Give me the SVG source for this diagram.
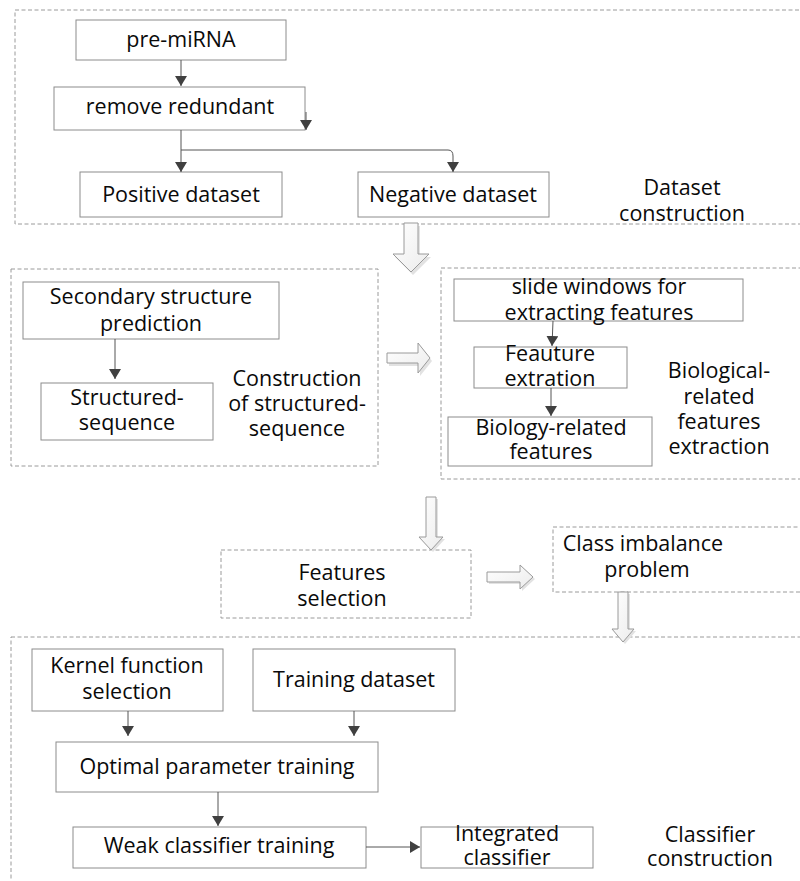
<svg xmlns="http://www.w3.org/2000/svg" width="800" height="881" viewBox="0 0 800 881">
<style>
.bg{fill:#fff}
.box{fill:#fff;stroke:#8c8c8c;stroke-width:1}
.sec{fill:none;stroke:#9a9a9a;stroke-width:1;stroke-dasharray:4 2.5}
.t{font-family:"Open Sans","Noto Sans","Liberation Sans",sans-serif;font-size:21.5px;fill:#0a0a0a;text-anchor:middle}
.ln{fill:none;stroke:#555;stroke-width:1;marker-end:url(#ah)}
.big{fill:url(#hg);stroke:#9a9a9a;stroke-width:1}
.sh{fill:#e2e2e2}
</style>
<defs>
<marker id="ah" viewBox="0 0 10 12" markerWidth="10" markerHeight="12" refX="10" refY="6" orient="auto" markerUnits="userSpaceOnUse">
<path d="M0,0 L10,6 L0,12 Z" fill="#404040"/>
</marker>
<linearGradient id="hg" x1="0" y1="0" x2="1" y2="1">
<stop offset="0" stop-color="#ffffff"/>
<stop offset="1" stop-color="#ececec"/>
</linearGradient>
</defs>
<rect class="bg" x="0" y="0" width="800" height="881"/>

<g id="section-dataset">
<rect class="sec" x="15" y="10" width="800" height="214"/>
<text class="t"><tspan x="682" y="195">Dataset</tspan><tspan x="682" y="221">construction</tspan></text>
</g>
<g id="section-structured">
<rect class="sec" x="11" y="269" width="367" height="197"/>
<text class="t"><tspan x="297" y="386">Construction</tspan><tspan x="297" y="411">of structured-</tspan><tspan x="297" y="436">sequence</tspan></text>
</g>
<g id="section-biological">
<rect class="sec" x="441" y="268" width="400" height="211"/>
<text class="t"><tspan x="719" y="378">Biological-</tspan><tspan x="719" y="404">related</tspan><tspan x="719" y="429">features</tspan><tspan x="719" y="454">extraction</tspan></text>
</g>
<g id="section-classifier">
<rect class="sec" x="11" y="637" width="800" height="260"/>
<text class="t"><tspan x="710" y="842">Classifier</tspan><tspan x="710" y="866">construction</tspan></text>
</g>

<g id="pre-miRNA">
<rect class="box" x="76" y="20" width="210" height="40"/>
<text class="t" x="181" y="47">pre-miRNA</text>
</g>
<g id="remove-redundant">
<rect class="box" x="54" y="87" width="251" height="43"/>
<text class="t" x="180" y="114">remove redundant</text>
</g>
<g id="positive-dataset">
<rect class="box" x="80" y="172" width="202" height="45"/>
<text class="t" x="181" y="202">Positive dataset</text>
</g>
<g id="negative-dataset">
<rect class="box" x="358" y="172" width="191" height="45"/>
<text class="t" x="453" y="202">Negative dataset</text>
</g>

<g id="secondary-structure">
<rect class="box" x="23" y="282" width="256" height="57"/>
<text class="t"><tspan x="151" y="304">Secondary structure</tspan><tspan x="151" y="331">prediction</tspan></text>
</g>
<g id="structured-sequence">
<rect class="box" x="41" y="383" width="172" height="57"/>
<text class="t"><tspan x="127" y="405">Structured-</tspan><tspan x="127" y="430">sequence</tspan></text>
</g>

<g id="slide-windows">
<rect class="box" x="454" y="279" width="289" height="42"/>
<text class="t"><tspan x="599" y="294">slide windows for</tspan><tspan x="599" y="320">extracting features</tspan></text>
</g>
<g id="feature-extraction">
<rect class="box" x="474" y="347" width="153" height="41"/>
<text class="t"><tspan x="550" y="361">Feauture</tspan><tspan x="550" y="386">extration</tspan></text>
</g>
<g id="biology-related">
<rect class="box" x="448" y="417" width="204" height="49"/>
<text class="t"><tspan x="551" y="435">Biology-related</tspan><tspan x="551" y="459">features</tspan></text>
</g>

<g id="features-selection">
<rect class="sec" x="221" y="550" width="250" height="68"/>
<text class="t"><tspan x="342" y="580">Features</tspan><tspan x="342" y="606">selection</tspan></text>
</g>
<g id="class-imbalance">
<rect class="sec" x="553" y="527" width="260" height="65"/>
<text class="t"><tspan x="643" y="551">Class imbalance</tspan><tspan x="647" y="577">problem</tspan></text>
</g>

<g id="kernel-function">
<rect class="box" x="32" y="649" width="191" height="62"/>
<text class="t"><tspan x="127" y="673">Kernel function</tspan><tspan x="127" y="699">selection</tspan></text>
</g>
<g id="training-dataset">
<rect class="box" x="253" y="649" width="202" height="62"/>
<text class="t" x="354" y="687">Training dataset</text>
</g>
<g id="optimal-parameter">
<rect class="box" x="56" y="742" width="322" height="50"/>
<text class="t" x="217" y="774">Optimal parameter training</text>
</g>
<g id="weak-classifier">
<rect class="box" x="73" y="827" width="293" height="41"/>
<text class="t" x="219" y="853">Weak classifier training</text>
</g>
<g id="integrated-classifier">
<rect class="box" x="421" y="827" width="172" height="41"/>
<text class="t"><tspan x="507" y="841">Integrated</tspan><tspan x="507" y="865">classifier</tspan></text>
</g>

<g id="connectors">
<path class="ln" d="M181,60 V86"/>
<path class="ln" d="M306,112 V130"/>
<path class="ln" d="M181,130 V172"/>
<path class="ln" d="M181,150 H448 Q453,150 453,156 V172"/>
<path class="ln" d="M115,339 V379"/>
<path class="ln" d="M553,321 L552,346"/>
<path class="ln" d="M551,388 V416"/>
<path class="ln" d="M128,711 V736"/>
<path class="ln" d="M354,711 V736"/>
<path class="ln" d="M218,792 V826"/>
<path class="ln" d="M366,847 H420"/>
<polygon class="sh" points="406,226 420,226 420,257 431,257 413,275 395,257 406,257"/>
<polygon class="big" points="404,223 418,223 418,254 429,254 411,272 393,254 404,254"/>
<polygon class="sh" points="389,356 420,356 420,346 432,361 420,376 420,366 389,366"/>
<polygon class="big" points="387,353 418,353 418,343 430,358 418,373 418,363 387,363"/>
<polygon class="sh" points="428,499 438,499 438,539 445,539 433,552 421,539 428,539"/>
<polygon class="big" points="426,497 436,497 436,537 443,537 431,550 419,537 426,537"/>
<polygon class="sh" points="489,574 522,574 522,567 535,579 522,591 522,584 489,584"/>
<polygon class="big" points="487,572 520,572 520,565 533,577 520,589 520,582 487,582"/>
<polygon class="sh" points="620,594 630,594 630,631 636,631 625,644 614,631 620,631"/>
<polygon class="big" points="618,592 628,592 628,629 634,629 623,642 612,629 618,629"/>
</g>
</svg>
